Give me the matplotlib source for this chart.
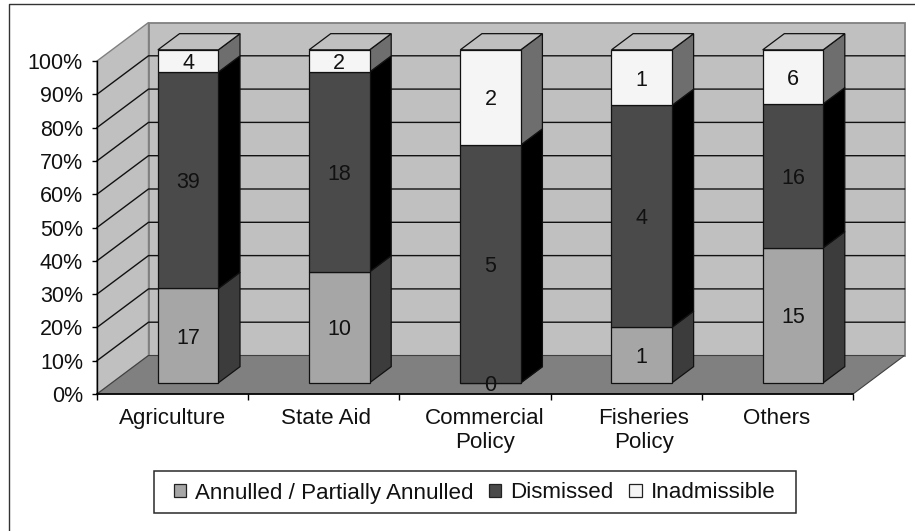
#!/usr/bin/env python3
"""Stacked 3D-look percentage columns, drawn on a flat axes."""

import matplotlib
matplotlib.use("Agg")
import matplotlib.pyplot as plt
from matplotlib.lines import Line2D
from matplotlib.patches import Patch, Polygon, Rectangle
import numpy as np

categories = ["Agriculture", "State Aid", "Commercial\nPolicy", "Fisheries\nPolicy", "Others"]
series_names = ["Annulled / Partially Annulled", "Dismissed", "Inadmissible"]
annulled = [17, 10, 0, 1, 15]
dismissed = [39, 18, 5, 4, 16]
inadmissible = [4, 2, 2, 1, 6]
y_ticks = [0, 10, 20, 30, 40, 50, 60, 70, 80, 90, 100]

W, H = 915, 531
PX_CAT = 151.2    # pixels per category
PX_PCT = 3.33     # pixels per percent
X0, Y0 = 97, 394  # pixel position of the origin
DX = 51.5 / PX_CAT
DY = 38.5 / PX_PCT

FRONT_COLORS = ["#a6a6a6", "#4a4a4a", "#f5f5f5"]
SIDE_COLORS = ["#3c3c3c", "#000000", "#6e6e6e"]
WALL = "#c0c0c0"
FLOOR = "#808080"
EDGE = "#808080"
INK = "#111111"
FS = 15.5
FS_LABEL = 16.1

plt.rcParams["font.family"] = ["Liberation Sans", "DejaVu Sans"]

fig = plt.figure(figsize=(W / 100, H / 100), dpi=100, facecolor="white")
ax = fig.add_axes([0, 0, 1, 1])
ax.set_xlim(-X0 / PX_CAT, (W - X0) / PX_CAT)
ax.set_ylim(-(H - Y0) / PX_PCT, Y0 / PX_PCT)


def proj(x, y, d):
    return (x + d * DX, y + d * DY)


# ── Walls and floor ─────────────────────────────────
n = len(categories)
ax.add_patch(Polygon([proj(0, 0, 1), proj(n, 0, 1), proj(n, 100, 1), proj(0, 100, 1)],
                     facecolor=WALL, edgecolor=EDGE, lw=1.3, zorder=1))
ax.add_patch(Polygon([proj(0, 0, 0), proj(0, 100, 0), proj(0, 100, 1), proj(0, 0, 1)],
                     facecolor=WALL, edgecolor=EDGE, lw=1.0, zorder=1))
ax.add_patch(Polygon([proj(0, 0, 0), proj(n, 0, 0), proj(n, 0, 1), proj(0, 0, 1)],
                     facecolor=FLOOR, edgecolor="#404040", lw=0.8, zorder=1.1))

for t in y_ticks[1:-1]:
    a, b, c = proj(0, t, 0), proj(0, t, 1), proj(n, t, 1)
    ax.plot([a[0], b[0], c[0]], [a[1], b[1], c[1]], color="#111111", lw=1.0, zorder=1.2)

# ── Columns ─────────────────────────────────────────
D0, D1 = 0.29, 0.71
BAR_W = 0.4
stack = np.array([annulled, dismissed, inadmissible], dtype=float)
pct = stack / stack.sum(axis=0) * 100
bottoms = np.vstack([np.zeros(n), np.cumsum(pct, axis=0)[:-1]])

for i in range(n):
    left = i + 0.304
    for s in range(3):
        lo, hi = bottoms[s, i], bottoms[s, i] + pct[s, i]
        fx, flo = proj(left + BAR_W, lo, D0)
        _, fhi = proj(left + BAR_W, hi, D0)
        ax.add_patch(Polygon([(fx, flo), (fx, fhi), proj(left + BAR_W, hi, D1), proj(left + BAR_W, lo, D1)],
                             facecolor=SIDE_COLORS[s], edgecolor="#111111", lw=0.9, zorder=2))
        ax.bar(proj(left, 0, D0)[0], pct[s, i], width=BAR_W, bottom=flo, align="edge",
               color=FRONT_COLORS[s], edgecolor="#111111", lw=0.9, zorder=2.1)
        ax.text(proj(left + BAR_W / 2, 0, D0)[0], (flo + fhi) / 2, f"{int(stack[s, i])}",
                ha="center", va="center_baseline", fontsize=FS, color=INK, zorder=3)
    ax.add_patch(Polygon([proj(left, 100, D0), proj(left + BAR_W, 100, D0),
                          proj(left + BAR_W, 100, D1), proj(left, 100, D1)],
                         facecolor=WALL, edgecolor="#111111", lw=0.9, zorder=2.2))

# ── Axes ────────────────────────────────────────────
for side in ["top", "right"]:
    ax.spines[side].set_visible(False)
ax.spines["left"].set_position(("data", 0))
ax.spines["left"].set_bounds(0, 100)
ax.spines["bottom"].set_position(("data", 0))
ax.spines["bottom"].set_bounds(0, n)
ax.spines["left"].set_linewidth(1.0)
ax.spines["bottom"].set_linewidth(1.2)

ax.set_yticks(y_ticks)
ax.set_yticklabels([f"{t}%" for t in y_ticks], fontsize=FS, color=INK)
ax.set_xticks(range(n + 1))
ax.tick_params(axis="x", labelbottom=False, length=4, width=1)
ax.tick_params(axis="y", length=3.6, width=1, pad=6.5)

label_x = [0.5, 1.512, 2.565, 3.618, 4.497]
for lx, name in zip(label_x, categories):
    ax.text(lx, -4.1, name, ha="center", va="top", fontsize=FS_LABEL, color=INK, linespacing=1.2)

# ── Legend and frame ────────────────────────────────
fig.add_artist(Rectangle((153.5 / W, 1 - 513.3 / H), 642.8 / W, 42.6 / H, transform=fig.transFigure,
                         facecolor="white", edgecolor="#2a2a2a", lw=1.1, zorder=4))
handles = [Patch(facecolor=c, edgecolor="#222222", lw=0.9) for c in FRONT_COLORS]
leg = fig.legend(handles, series_names, ncol=3, loc="center", bbox_to_anchor=(474.5 / W, 1 - 493 / H),
                 frameon=False, fontsize=FS_LABEL, handlelength=0.55, handleheight=0.55,
                 handletextpad=0.4, columnspacing=0.71, borderpad=0, labelcolor=INK)
leg.set_zorder(5)

fig.add_artist(Line2D([9.3 / W, 9.3 / W, 1], [0, 1 - 3.5 / H, 1 - 3.5 / H], transform=fig.transFigure,
                      color="#333333", lw=1.0, zorder=6))

fig.savefig("out.png", dpi=100, facecolor=fig.get_facecolor())
